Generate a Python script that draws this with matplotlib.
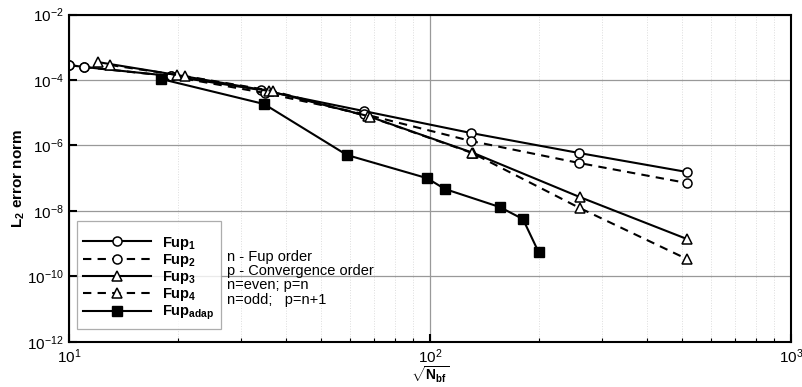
import numpy as np
import matplotlib
matplotlib.use('Agg')
import matplotlib.pyplot as plt
from matplotlib.ticker import LogLocator, NullLocator, NullFormatter

plt.rcParams['font.family'] = ['Liberation Sans', 'DejaVu Sans']
plt.rcParams['mathtext.fontset'] = 'custom'
plt.rcParams['mathtext.rm'] = 'Liberation Sans'
plt.rcParams['mathtext.bf'] = 'Liberation Sans:bold'
plt.rcParams['mathtext.default'] = 'regular'

# data
x_fup1 = [10.0, 11.0, 19.2, 34.0, 65.6, 130, 259, 515]
y_fup1 = [2.86e-4, 2.49e-4, 1.32e-4, 4.93e-5, 1.12e-5, 2.39e-6, 5.85e-7, 1.54e-7]

x_fup2 = [10.0, 11.0, 19.2, 34.9, 65.6, 130, 259, 515]
y_fup2 = [2.86e-4, 2.49e-4, 1.30e-4, 3.99e-5, 9.1e-6, 1.36e-6, 2.9e-7, 7.1e-8]

x_fup3 = [12.0, 19.9, 35.8, 67.3, 132, 260, 515]
y_fup3 = [3.53e-4, 1.42e-4, 4.59e-5, 7.9e-6, 5.85e-7, 2.64e-8, 1.38e-9]

x_fup4 = [13.0, 20.9, 36.7, 68.2, 131, 260, 515]
y_fup4 = [2.86e-4, 1.32e-4, 4.59e-5, 7.4e-6, 5.85e-7, 1.22e-8, 3.37e-10]

x_adap = [18.0, 34.7, 58.9, 98.1, 110, 156, 181, 200]
y_adap = [1.07e-4, 1.84e-5, 5.08e-7, 1.0e-7, 4.65e-8, 1.31e-8, 5.6e-9, 5.5e-10]

labels = [r'$\mathbf{Fup_1}$', r'$\mathbf{Fup_2}$', r'$\mathbf{Fup_3}$',
          r'$\mathbf{Fup_4}$', r'$\mathbf{Fup_{adap}}$']
note_lines = ['n - Fup order', 'p - Convergence order', 'n=even; p=n', 'n=odd;   p=n+1']

fig = plt.figure(figsize=(8.03, 3.87), dpi=100)
ax = fig.add_axes([0.0859, 0.117, 0.899, 0.8455])

lw = 1.5
ms = 6.5
dash = (4, 3)
ax.plot(x_fup1, y_fup1, 'k-', lw=lw, marker='o', ms=ms, mfc='white', mec='k', mew=1.1, label=labels[0])
ax.plot(x_fup2, y_fup2, 'k--', lw=lw, dashes=dash, marker='o', ms=ms, mfc='white', mec='k', mew=1.1, label=labels[1])
ax.plot(x_fup3, y_fup3, 'k-', lw=lw, marker='^', ms=ms + 0.5, mfc='white', mec='k', mew=1.1, label=labels[2])
ax.plot(x_fup4, y_fup4, 'k--', lw=lw, dashes=dash, marker='^', ms=ms + 0.5, mfc='white', mec='k', mew=1.1, label=labels[3])
ax.plot(x_adap, y_adap, 'k-', lw=lw, marker='s', ms=ms, mfc='k', mec='k', label=labels[4])

ax.set_xscale('log')
ax.set_yscale('log')
ax.set_xlim(10, 1000)
ax.set_ylim(1e-12, 1e-2)
ax.set_yticks([1e-12, 1e-10, 1e-8, 1e-6, 1e-4, 1e-2])
ax.yaxis.set_minor_locator(NullLocator())
ax.xaxis.set_minor_locator(LogLocator(base=10, subs=np.arange(2, 10)))
ax.xaxis.set_minor_formatter(NullFormatter())

ax.tick_params(which='both', direction='in', top=False, right=False, labelsize=11)
ax.tick_params(which='major', length=6, width=1.5)
ax.tick_params(which='minor', length=3, width=0.8)
ax.tick_params(axis='x', pad=4)

ax.grid(True, which='major', color='#999999', lw=0.9, ls='-')
ax.grid(True, which='minor', axis='x', color='#dddddd', lw=0.7, ls=':')
ax.set_axisbelow(True)
for s in ax.spines.values():
    s.set_linewidth(1.5)

ax.set_xlabel(r'$\sqrt{\mathbf{N_{bf}}}$', fontsize=10)
ax.xaxis.set_label_coords(0.5, -0.07)
ax.set_ylabel(r'$\mathbf{L_2}$ error norm', fontsize=11, fontweight='bold', labelpad=0)

leg = ax.legend(loc='lower left', bbox_to_anchor=(0.011, 0.04), frameon=True, fancybox=False,
                edgecolor='#999999', fontsize=10.5, handlelength=4.6, handletextpad=0.8,
                labelspacing=0.02, borderpad=0.45, borderaxespad=0,
                title=' ', title_fontsize=6)
leg.get_frame().set_linewidth(0.9)

for i, line in enumerate(note_lines):
    ax.text(0.219, 0.258 - i * 0.043, line, transform=ax.transAxes, fontsize=10.5,
            va='center', ha='left')

fig.savefig('out.png', dpi=100)
